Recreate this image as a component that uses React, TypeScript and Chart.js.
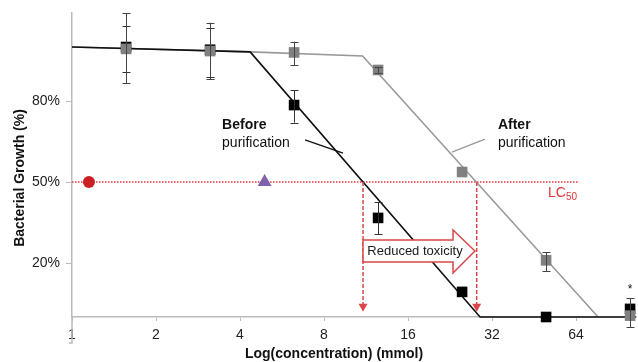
import React, { useEffect, useRef } from "react";
import { Chart, registerables } from "chart.js";

Chart.register(...registerables);

// ---- data ----
const concentrations = [1.5625, 3.125, 6.25, 12.5, 25, 50, 100];
const afterMean = [99.3, 98.5, 98, 91.5, 53.7, 21, 0.5];
const afterLow = [86.5, 88, 93.3, 90.5, 53.7, 17, -3.7];
const afterHigh = [112.5, 109, 102, 92.5, 53.7, 24, 7];
const beforeMean = [100, 99, 78.5, 36.7, 9.3, 0, 3];
const beforeLow = [90.7, 89, 72, 30.7, 9.3, 0, 3];
const beforeHigh = [107.8, 107, 84, 42.6, 9.3, 0, 3];

const beforeFitX = [1, 4.35, 29, 105];
const beforeFitY = [100, 98.2, 0, 0];
const afterFitX = [1, 4.35, 11, 76.8];
const afterFitY = [100, 98.2, 96.7, 0];

const controlX = [1.15];
const controlY = [50];
const referenceX = [4.9];
const referenceY = [50];

const xTicks = [1, 2, 4, 8, 16, 32, 64];
const yTicks = [20, 50, 80];

const lc50Level = 50;
const lc50LineEnd = 65;
const lc50Before = 11.04;
const lc50After = 28.2;
const starX = 100;
const starY = 11;

const FONT = "'Liberation Sans', Arial, sans-serif";

function pts(xs: number[], ys: number[]) {
  return xs.map((x, i) => ({ x, y: ys[i] }));
}

const annotPlugin = {
  id: "annot",
  beforeDatasetsDraw(chart: any) {
    const { ctx } = chart;
    const xs = chart.scales.x;
    const ys = chart.scales.y;
    const X = (v: number) => xs.getPixelForValue(v);
    const Y = (v: number) => ys.getPixelForValue(v);
    ctx.save();
    ctx.strokeStyle = "#e3363b";
    ctx.lineWidth = 1.5;
    ctx.setLineDash([1.5, 1.5]);
    ctx.beginPath();
    ctx.moveTo(X(1), Y(lc50Level));
    ctx.lineTo(X(lc50LineEnd), Y(lc50Level));
    ctx.stroke();
    ctx.restore();
  },
  afterDatasetsDraw(chart: any) {
    const { ctx } = chart;
    const xs = chart.scales.x;
    const ys = chart.scales.y;
    const X = (v: number) => xs.getPixelForValue(v);
    const Y = (v: number) => ys.getPixelForValue(v);

    // error bars
    const drawErr = (lo: number[], hi: number[], color: string) => {
      ctx.save();
      ctx.strokeStyle = color;
      ctx.lineWidth = 1;
      concentrations.forEach((c, i) => {
        if (hi[i] - lo[i] < 0.5) return;
        const px = Math.round(X(c)) + 0.5;
        const y1 = Y(lo[i]);
        const y2 = Y(hi[i]);
        ctx.beginPath();
        ctx.moveTo(px, y1);
        ctx.lineTo(px, y2);
        ctx.moveTo(px - 4, Math.round(y1) + 0.5);
        ctx.lineTo(px + 4, Math.round(y1) + 0.5);
        ctx.moveTo(px - 4, Math.round(y2) + 0.5);
        ctx.lineTo(px + 4, Math.round(y2) + 0.5);
        ctx.stroke();
      });
      ctx.restore();
    };
    drawErr(beforeLow, beforeHigh, "#333");
    drawErr(afterLow, afterHigh, "#444");

    // vertical dashed arrows
    ctx.save();
    ctx.strokeStyle = "#d9474a";
    ctx.fillStyle = "#d9474a";
    ctx.lineWidth = 1.5;
    [lc50Before, lc50After].forEach((v) => {
      const px = X(v);
      const yTop = Y(lc50Level);
      const yTip = Y(1.9);
      ctx.setLineDash([4, 2]);
      ctx.beginPath();
      ctx.moveTo(px, yTop);
      ctx.lineTo(px, yTip - 6);
      ctx.stroke();
      ctx.setLineDash([]);
      ctx.beginPath();
      ctx.moveTo(px - 4.5, yTip - 8);
      ctx.lineTo(px + 4.5, yTip - 8);
      ctx.lineTo(px, yTip);
      ctx.closePath();
      ctx.fill();
    });
    ctx.restore();

    // Reduced toxicity block arrow
    ctx.save();
    const ax0 = X(lc50Before);
    const axHead = X(23.2);
    const axTip = X(27.8);
    const bTop = Y(28.5);
    const bBot = Y(20.4);
    const hTop = Y(32.2);
    const hBot = Y(16.3);
    const mid = (bTop + bBot) / 2;
    ctx.beginPath();
    ctx.moveTo(ax0, bTop);
    ctx.lineTo(axHead, bTop);
    ctx.lineTo(axHead, hTop);
    ctx.lineTo(axTip, mid);
    ctx.lineTo(axHead, hBot);
    ctx.lineTo(axHead, bBot);
    ctx.lineTo(ax0, bBot);
    ctx.closePath();
    ctx.fillStyle = "#fff";
    ctx.fill();
    ctx.strokeStyle = "#d9474a";
    ctx.lineWidth = 1.5;
    ctx.stroke();
    ctx.fillStyle = "#1a1a1a";
    ctx.font = `13px ${FONT}`;
    ctx.textAlign = "center";
    ctx.textBaseline = "middle";
    ctx.fillText("Reduced toxicity", X(16.95), mid + 0.5);
    ctx.restore();

    // leader lines
    ctx.save();
    ctx.lineWidth = 1.3;
    ctx.strokeStyle = "#111";
    ctx.beginPath();
    ctx.moveTo(X(6.84), Y(65.6));
    ctx.lineTo(X(9.36), Y(60.7));
    ctx.stroke();
    ctx.strokeStyle = "#999";
    ctx.beginPath();
    ctx.moveTo(X(30.2), Y(65.9));
    ctx.lineTo(X(23.0), Y(61.1));
    ctx.stroke();
    ctx.restore();

    // text labels
    ctx.save();
    ctx.textAlign = "left";
    ctx.textBaseline = "middle";
    ctx.fillStyle = "#111";
    ctx.font = `bold 14px ${FONT}`;
    ctx.fillText("Before", X(3.45), Y(71.1));
    ctx.fillText("After", X(33.6), Y(71.1));
    ctx.font = `14px ${FONT}`;
    ctx.fillText("purification", X(3.45), Y(64.4));
    ctx.fillText("purification", X(33.6), Y(64.4));
    // LC50
    ctx.fillStyle = "#e3363b";
    ctx.font = `14px ${FONT}`;
    const lx = X(50.8);
    const ly = Y(45.9);
    ctx.fillText("LC", lx, ly);
    const w = ctx.measureText("LC").width;
    ctx.font = `10px ${FONT}`;
    ctx.fillText("50", lx + w, ly + 4);
    // star
    ctx.fillStyle = "#111";
    ctx.font = `12px ${FONT}`;
    ctx.textAlign = "center";
    ctx.fillText("*", X(starX), Y(starY) + 2);
    ctx.restore();

    // y axis extension below x axis
    ctx.save();
    ctx.strokeStyle = "#bbb";
    ctx.lineWidth = 1.5;
    const ax = chart.chartArea.left;
    ctx.beginPath();
    ctx.moveTo(ax, chart.chartArea.bottom);
    ctx.lineTo(ax, chart.chartArea.bottom + 26);
    ctx.lineTo(ax - 3, chart.chartArea.bottom + 26);
    ctx.stroke();
    ctx.restore();

    // axis titles
    ctx.save();
    ctx.fillStyle = "#111";
    ctx.font = `bold 14px ${FONT}`;
    ctx.textAlign = "center";
    ctx.textBaseline = "middle";
    ctx.fillText("Log(concentration) (mmol)", 334, 354);
    ctx.translate(20, 178);
    ctx.rotate(-Math.PI / 2);
    ctx.fillText("Bacterial Growth (%)", 0, 0);
    ctx.restore();
  },
};

export default function App() {
  const ref = useRef<HTMLCanvasElement>(null);
  useEffect(() => {
    const canvas = ref.current!;
    const chart = new Chart(canvas, {
      type: "scatter",
      data: {
        datasets: [
          {
            label: "After purification",
            data: pts(concentrations, afterMean),
            pointStyle: "rect",
            pointRadius: 7.5,
            backgroundColor: "#808080",
            borderColor: "#808080",
            borderWidth: 0,
            showLine: false,
            clip: false,
          } as any,
          {
            label: "Before purification",
            data: pts(concentrations, beforeMean),
            pointStyle: "rect",
            pointRadius: 7.5,
            backgroundColor: "#000",
            borderColor: "#000",
            borderWidth: 0,
            showLine: false,
            clip: false,
          } as any,
          {
            label: "Control",
            data: pts(controlX, controlY),
            pointStyle: "circle",
            pointRadius: 6,
            backgroundColor: "#cc1f24",
            borderColor: "#cc1f24",
            borderWidth: 0,
            showLine: false,
          },
          {
            label: "Reference",
            data: pts(referenceX, referenceY),
            pointStyle: "triangle",
            pointRadius: 8,
            backgroundColor: "#8062aa",
            borderColor: "#8062aa",
            borderWidth: 0,
            showLine: false,
          },
          {
            label: "Before fit",
            data: pts(beforeFitX, beforeFitY),
            showLine: true,
            pointRadius: 0,
            borderColor: "#111",
            borderWidth: 1.6,
            clip: false,
          } as any,
          {
            label: "After fit",
            data: pts(afterFitX, afterFitY),
            showLine: true,
            pointRadius: 0,
            borderColor: "#9a9a9a",
            borderWidth: 1.6,
            clip: false,
          } as any,
        ],
      },
      options: {
        animation: false,
        responsive: false,
        devicePixelRatio: 1,
        layout: { autoPadding: false, padding: { top: 13, right: 2, left: 0, bottom: 0 } },
        plugins: {
          legend: { display: false },
          tooltip: { enabled: false },
        },
        scales: {
          x: {
            type: "logarithmic",
            min: 1,
            max: 105,
            afterBuildTicks: (s: any) => {
              s.ticks = xTicks.map((v) => ({ value: v }));
            },
            afterFit: (s: any) => {
              s.height = 45;
              s.paddingLeft = 0;
              s.paddingRight = 0;
            },
            grid: {
              drawOnChartArea: false,
              drawTicks: true,
              tickLength: 4,
              color: "#bbb",
              lineWidth: 1,
            },
            border: { color: "#bbb", width: 1.5 },
            ticks: {
              autoSkip: false,
              maxRotation: 0,
              padding: 6,
              color: "#222",
              font: { family: FONT, size: 14 },
              callback: (v: any) => String(v),
            },
          },
          y: {
            type: "linear",
            min: 0,
            max: 112.6,
            afterBuildTicks: (s: any) => {
              s.ticks = yTicks.map((v) => ({ value: v }));
            },
            afterFit: (s: any) => {
              s.width = 72;
              s.paddingTop = 0;
              s.paddingBottom = 0;
            },
            grid: {
              drawOnChartArea: false,
              drawTicks: true,
              tickLength: 6,
              color: "#bbb",
              lineWidth: 1,
            },
            border: { color: "#bbb", width: 1.5 },
            ticks: {
              padding: 6,
              color: "#222",
              font: { family: FONT, size: 14 },
              callback: (v: any) => `${v}%`,
            },
          },
        },
      },
      plugins: [annotPlugin],
    });
    return () => chart.destroy();
  }, []);
  return (
    <div
      style={{
        position: "fixed",
        left: 0,
        top: 0,
        width: 638,
        height: 362,
        background: "#fff",
      }}
    >
      <canvas
        ref={ref}
        width={638}
        height={362}
        style={{ width: 638, height: 362, display: "block" }}
      />
    </div>
  );
}
